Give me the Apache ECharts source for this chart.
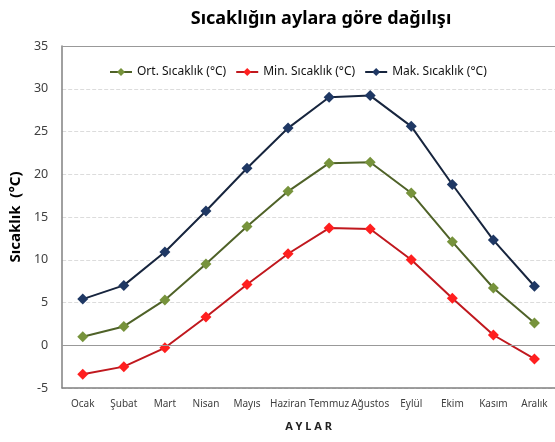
<!DOCTYPE html>
<html>
<head>
<meta charset="utf-8">
<script src="https://cdn.jsdelivr.net/npm/echarts@6/dist/echarts.min.js"></script>
<style>
    html, body { margin: 0; padding: 0; background: #fff; }
    #chart { width: 555px; height: 442px; }
</style>
</head>
<body>
<div id="chart"></div>
<script>
// aylar
var months = ['Ocak', 'Şubat', 'Mart', 'Nisan', 'Mayıs', 'Haziran', 'Temmuz', 'Ağustos', 'Eylül', 'Ekim', 'Kasım', 'Aralık']
var ortTemp = [1.0, 2.2, 5.3, 9.5, 13.9, 18.0, 21.3, 21.4, 17.8, 12.1, 6.7, 2.6]
var minTemp = [-3.4, -2.5, -0.3, 3.3, 7.1, 10.7, 13.7, 13.6, 10.0, 5.5, 1.2, -1.6]
var makTemp = [5.4, 7.0, 10.9, 15.7, 20.7, 25.4, 29.0, 29.2, 25.6, 18.8, 12.3, 6.9]

var font = 'Noto Sans'

function lineSeries(name, data, lineColor, dotColor) {
    return {
        name: name,
        type: 'line',
        data: data,
        symbol: 'diamond',
        symbolSize: 11,
        lineStyle: { color: lineColor, width: 2 },
        itemStyle: { color: dotColor, borderColor: dotColor, borderWidth: 0 }
    }
}

var myChart = echarts.init(document.getElementById('chart'))
var option = {
    animation: false,
    textStyle: { fontFamily: font },
    title: {
        text: 'Sıcaklığın aylara göre dağılışı',
        left: 316,
        top: 5,
        textAlign: 'center',
        textStyle: { fontSize: 18, fontWeight: 'bold', color: '#000', fontFamily: font }
    },
    legend: {
        top: 61,
        left: 104,
        itemWidth: 22,
        itemHeight: 10,
        itemGap: 9,
        textStyle: { fontSize: 12, color: '#111', fontFamily: font },
        data: ['Ort. Sıcaklık (°C)', 'Min. Sıcaklık (°C)', 'Mak. Sıcaklık (°C)']
    },
    grid: { left: 61, right: -5, top: 46, bottom: 54 },
    xAxis: {
        type: 'category',
        data: months,
        name: 'A Y L A R',
        nameLocation: 'middle',
        nameGap: 33,
        nameTextStyle: { fontSize: 11, fontWeight: 'bold', color: '#222' },
        axisLine: { onZero: false, lineStyle: { color: '#808080', width: 1.5 } },
        axisTick: { show: false },
        axisLabel: { fontSize: 10, color: '#404040', margin: 11, interval: 0 },
        splitLine: { show: false }
    },
    yAxis: {
        type: 'value',
        min: -5,
        max: 35,
        interval: 5,
        name: 'Sıcaklık  (°C)',
        nameLocation: 'middle',
        nameGap: 38,
        nameTextStyle: { fontSize: 15, fontWeight: 'bold', color: '#000' },
        axisLine: { show: true, lineStyle: { color: '#808080', width: 1.5 } },
        axisTick: { show: false },
        axisLabel: { fontSize: 12.5, color: '#404040', margin: 14 },
        splitLine: { lineStyle: { color: '#dcdcdc', type: 'dashed', width: 1 } }
    },
    series: [
        lineSeries('Ort. Sıcaklık (°C)', ortTemp, '#4f6228', '#77933c'),
        lineSeries('Min. Sıcaklık (°C)', minTemp, '#c0181e', '#ff1f1f'),
        lineSeries('Mak. Sıcaklık (°C)', makTemp, '#17253e', '#1f3864'),
        {
            // sıfır ve üst çizgi
            type: 'line',
            data: [],
            silent: true,
            markLine: {
                symbol: 'none',
                silent: true,
                label: { show: false },
                lineStyle: { color: '#999', type: 'solid', width: 1.2 },
                data: [{ yAxis: 0 }, { yAxis: 35 }]
            }
        }
    ]
}
myChart.setOption(option)
</script>
</body>
</html>
